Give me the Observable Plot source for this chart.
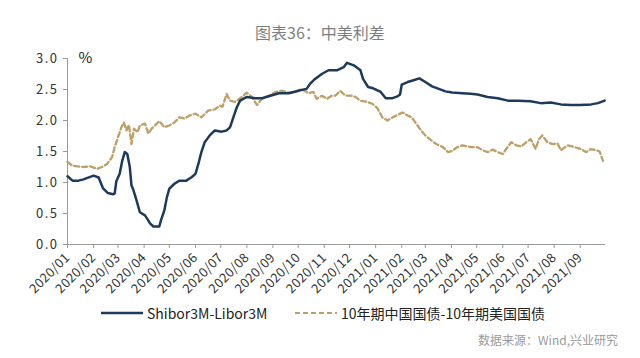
<!DOCTYPE html>
<html><head><meta charset="utf-8">
<script src="https://cdn.jsdelivr.net/npm/d3@7"></script>
<script src="https://cdn.jsdelivr.net/npm/@observablehq/plot@0.6"></script>
<style>
html,body{margin:0;padding:0;background:#fff;}
#wrap{position:relative;width:640px;height:358px;overflow:hidden;font-family:"Noto Sans CJK SC","Noto Sans",sans-serif;}
#title{position:absolute;left:0;top:20px;width:640px;text-align:center;font-size:16px;color:#7f7f7f;line-height:24px;}
#chart{position:absolute;left:0;top:48px;}
#legend{position:absolute;left:0;top:302px;width:640px;height:22px;font-size:14px;color:#222;}
.item{position:absolute;top:0;height:22px;line-height:22px;white-space:nowrap;}
.item svg{position:absolute;top:0;}
#source{position:absolute;right:22px;top:331px;font-size:12px;color:#9a9a9a;line-height:18px;}
#chart [aria-label="y-axis tick label"] text{letter-spacing:1.5px;}
#chart [aria-label="x-axis tick label"] text{letter-spacing:0.3px;}
</style></head>
<body><div id="wrap">
<div id="title">图表36：中美利差</div>
<div id="chart"></div>
<div id="legend"></div>
<div id="source">数据来源：Wind,兴业研究</div>
</div>
<script>
const monthLabels = ["2020/01","2020/02","2020/03","2020/04","2020/05","2020/06","2020/07","2020/08","2020/09","2020/10","2020/11","2020/12","2021/01","2021/02","2021/03","2021/04","2021/05","2021/06","2021/07","2021/08","2021/09"];
const yTicks = [0,0.5,1.0,1.5,2.0,2.5,3.0];
const seriesNames = ["Shibor3M-Libor3M","10年期中国国债-10年期美国国债"];

const shiborDates = ["2020-01-01","2020-01-07","2020-01-14","2020-01-20","2020-02-01","2020-02-07","2020-02-12","2020-02-18","2020-02-24","2020-02-26","2020-02-28","2020-03-03","2020-03-06","2020-03-09","2020-03-12","2020-03-15","2020-03-17","2020-03-19","2020-03-23","2020-03-27","2020-04-02","2020-04-05","2020-04-08","2020-04-12","2020-04-19","2020-04-21","2020-04-25","2020-04-28","2020-05-01","2020-05-07","2020-05-13","2020-05-21","2020-05-27","2020-06-01","2020-06-05","2020-06-08","2020-06-12","2020-06-18","2020-06-24","2020-07-02","2020-07-08","2020-07-12","2020-07-16","2020-07-20","2020-07-24","2020-08-01","2020-08-11","2020-08-19","2020-08-29","2020-09-08","2020-09-20","2020-10-01","2020-10-11","2020-10-15","2020-10-21","2020-10-29","2020-11-06","2020-11-16","2020-11-24","2020-11-28","2020-12-06","2020-12-14","2020-12-17","2020-12-23","2020-12-29","2021-01-07","2021-01-13","2021-01-21","2021-01-27","2021-01-30","2021-02-01","2021-02-08","2021-02-15","2021-02-22","2021-03-01","2021-03-09","2021-03-17","2021-03-25","2021-04-02","2021-04-14","2021-04-24","2021-05-02","2021-05-14","2021-05-26","2021-06-07","2021-06-19","2021-07-04","2021-07-16","2021-07-28","2021-08-09","2021-08-21","2021-09-01","2021-09-14","2021-09-22","2021-09-30"];
const shiborValues = [1.10,1.03,1.03,1.05,1.11,1.08,0.91,0.83,0.81,0.82,1.02,1.14,1.35,1.49,1.46,1.25,0.95,0.89,0.71,0.52,0.47,0.41,0.34,0.29,0.29,0.39,0.55,0.76,0.90,0.98,1.03,1.03,1.08,1.14,1.33,1.49,1.65,1.76,1.84,1.82,1.84,1.89,2.05,2.21,2.32,2.38,2.36,2.36,2.40,2.44,2.44,2.48,2.51,2.59,2.67,2.75,2.81,2.81,2.86,2.93,2.89,2.81,2.67,2.54,2.52,2.46,2.36,2.36,2.39,2.42,2.58,2.62,2.65,2.68,2.62,2.55,2.51,2.47,2.45,2.44,2.43,2.42,2.38,2.36,2.32,2.32,2.31,2.28,2.29,2.26,2.25,2.25,2.26,2.28,2.32];

const bondDates = ["2020-01-01","2020-01-07","2020-01-13","2020-01-20","2020-01-28","2020-02-05","2020-02-11","2020-02-17","2020-02-23","2020-02-26","2020-03-01","2020-03-05","2020-03-08","2020-03-11","2020-03-14","2020-03-17","2020-03-20","2020-03-24","2020-03-27","2020-04-02","2020-04-06","2020-04-10","2020-04-16","2020-04-19","2020-04-25","2020-05-01","2020-05-07","2020-05-13","2020-05-19","2020-05-25","2020-06-01","2020-06-08","2020-06-16","2020-06-24","2020-06-30","2020-07-03","2020-07-08","2020-07-12","2020-07-18","2020-07-26","2020-08-01","2020-08-07","2020-08-13","2020-08-19","2020-08-27","2020-09-04","2020-09-12","2020-09-20","2020-09-27","2020-10-05","2020-10-13","2020-10-19","2020-10-23","2020-10-29","2020-11-04","2020-11-10","2020-11-14","2020-11-20","2020-11-26","2020-12-02","2020-12-08","2020-12-14","2020-12-22","2020-12-28","2021-01-03","2021-01-09","2021-01-15","2021-01-21","2021-01-27","2021-02-02","2021-02-08","2021-02-13","2021-02-18","2021-02-24","2021-03-01","2021-03-08","2021-03-14","2021-03-22","2021-03-28","2021-04-02","2021-04-08","2021-04-14","2021-04-24","2021-05-02","2021-05-08","2021-05-14","2021-05-20","2021-05-26","2021-06-01","2021-06-05","2021-06-11","2021-06-17","2021-06-23","2021-06-29","2021-07-04","2021-07-10","2021-07-14","2021-07-18","2021-07-24","2021-07-30","2021-08-05","2021-08-09","2021-08-17","2021-08-25","2021-09-02","2021-09-08","2021-09-14","2021-09-20","2021-09-24","2021-09-28"];
const bondValues = [1.33,1.27,1.26,1.25,1.26,1.22,1.25,1.30,1.41,1.57,1.73,1.89,1.97,1.84,1.93,1.62,1.87,1.81,1.92,1.95,1.79,1.87,1.95,1.99,1.89,1.92,1.97,2.05,2.03,2.08,2.11,2.05,2.16,2.18,2.24,2.22,2.43,2.32,2.30,2.38,2.45,2.38,2.25,2.35,2.40,2.46,2.48,2.45,2.45,2.51,2.44,2.46,2.35,2.40,2.35,2.40,2.40,2.48,2.40,2.40,2.38,2.32,2.30,2.27,2.20,2.05,2.00,2.05,2.09,2.13,2.08,2.05,1.95,1.84,1.76,1.68,1.62,1.57,1.49,1.51,1.57,1.60,1.57,1.57,1.52,1.49,1.53,1.49,1.46,1.54,1.65,1.60,1.58,1.65,1.70,1.54,1.70,1.76,1.65,1.62,1.63,1.52,1.60,1.57,1.54,1.49,1.54,1.52,1.50,1.35];

const navy = "#1d3a5c";
const tan = "#bf9e68";

const shibor = shiborDates.map((d,i)=>({date:new Date(d), value:shiborValues[i]}));
const bond = bondDates.map((d,i)=>({date:new Date(d), value:bondValues[i]}));
const monthTicks = monthLabels.map(s => new Date(s.replace("/","-")+"-01"));
const xDomain = [monthTicks[0], new Date("2021-10-01")];

const chart = Plot.plot({
  width: 640, height: 245,
  marginLeft: 67, marginRight: 35, marginTop: 10, marginBottom: 49,
  style: {fontFamily: '"Noto Sans CJK SC","Noto Sans",sans-serif', fontSize: "13px", color: "#333", background: "#fff", overflow: "visible"},
  x: {type: "utc", domain: xDomain},
  y: {domain: [0, 3]},
  marks: [
    Plot.ruleY([0], {stroke: "#9a9a9a", strokeWidth: 1}),
    Plot.ruleX([xDomain[0]], {stroke: "#9a9a9a", strokeWidth: 1}),
    Plot.axisY({ticks: yTicks, tickSize: 4, tickPadding: 5, tickFormat: d3.format(".1f"), label: null, stroke: "#9a9a9a", fill: "#333"}),
    Plot.axisX({ticks: monthTicks, tickSize: 4, tickPadding: 7, tickRotate: -45, fontSize: 13,
      tickFormat: (d) => monthLabels[monthTicks.findIndex(t => +t === +d)], label: null, stroke: "#9a9a9a", fill: "#333"}),
    Plot.text(["%"], {frameAnchor: "top-left", dx: 11, dy: 0, textAnchor: "start", lineAnchor: "middle", fontSize: 15, fill: "#222"}),
    Plot.line(bond, {x: "date", y: "value", stroke: tan, strokeWidth: 2.3, strokeDasharray: "5,3", curve: "linear"}),
    Plot.line(shibor, {x: "date", y: "value", stroke: navy, strokeWidth: 2.5, curve: "linear"})
  ]
});
document.getElementById("chart").appendChild(chart);

const legend = document.getElementById("legend");
const items = [
  {name: seriesNames[0], color: navy, dash: null, left: 101, w: 42},
  {name: seriesNames[1], color: tan, dash: "5,3", left: 295, w: 42}
];
items.forEach(it => {
  const div = document.createElement("div");
  div.className = "item";
  div.style.left = it.left + "px";
  div.innerHTML = `<svg width="${it.w}" height="22"><line x1="0" x2="${it.w}" y1="11" y2="11" stroke="${it.color}" stroke-width="${it.dash ? 2 : 2.5}" ${it.dash ? `stroke-dasharray="${it.dash}"` : ""}/></svg><span style="position:absolute;left:${it.w + 4}px;">${it.name}</span>`;
  legend.appendChild(div);
});
</script>
</body></html>
